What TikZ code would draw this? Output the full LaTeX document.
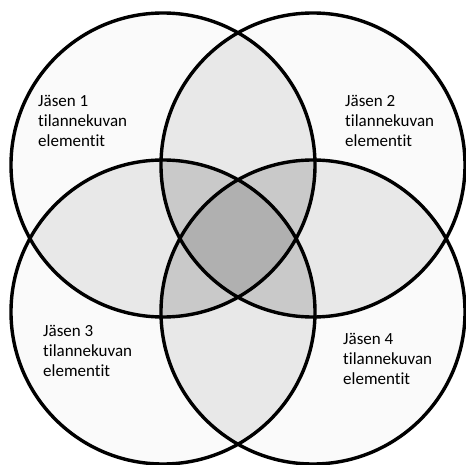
\documentclass[tikz,border=0pt]{standalone}
\usepackage{fontspec}
\setmainfont{Carlito}[Ligatures=NoCommon]
\usetikzlibrary{positioning}
\definecolor{shadeone}{RGB}{250,250,250}
\definecolor{shadetwo}{RGB}{232,232,232}
\definecolor{shadethree}{RGB}{201,201,201}
\definecolor{shadefour}{RGB}{176,176,176}
\begin{document}
\begin{tikzpicture}[x=1pt,y=-1pt,
    every node/.style={font=\fontsize{17}{20}\selectfont,align=left,anchor=north west,inner sep=0pt},
    ring/.style={draw=black,line width=3.4pt}]
  \useasboundingbox (0,0) rectangle (466,465);
  \coordinate (c1) at (163,165);
  \coordinate (c2) at (313,165);
  \coordinate (c3) at (163,312);
  \coordinate (c4) at (313,312);
  % one member
  \foreach \a in {c1,c2,c3,c4}{
    \fill[shadeone] (\a) circle[radius=152pt];
  }
  % two members
  \foreach \a/\b in {c1/c2,c1/c3,c1/c4,c2/c3,c2/c4,c3/c4}{
    \begin{scope}
      \clip (\a) circle[radius=152pt];
      \fill[shadetwo] (\b) circle[radius=152pt];
    \end{scope}
  }
  % three members
  \foreach \a/\b/\c in {c1/c2/c3,c1/c2/c4,c1/c3/c4,c2/c3/c4}{
    \begin{scope}
      \clip (\a) circle[radius=152pt];
      \clip (\b) circle[radius=152pt];
      \fill[shadethree] (\c) circle[radius=152pt];
    \end{scope}
  }
  % all four
  \begin{scope}
    \clip (c1) circle[radius=152pt];
    \clip (c2) circle[radius=152pt];
    \clip (c3) circle[radius=152pt];
    \fill[shadefour] (c4) circle[radius=152pt];
  \end{scope}
  \foreach \a in {c1,c2,c3,c4}{
    \draw[ring] (\a) circle[radius=152pt];
  }
  \node (jasen1) at (38,95) {Jäsen 1\\tilannekuvan\\elementit};
  \node (jasen2) at (345,95) {Jäsen 2\\tilannekuvan\\elementit};
  \node (jasen3) at (43,325) {Jäsen 3\\tilannekuvan\\elementit};
  \node (jasen4) at (343,333) {Jäsen 4\\tilannekuvan\\elementit};
\end{tikzpicture}
\end{document}
